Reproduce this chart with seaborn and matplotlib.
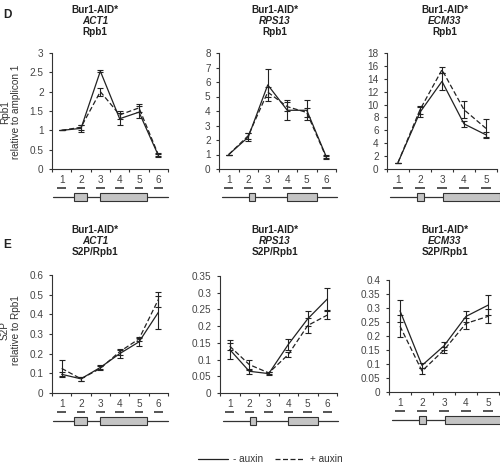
import numpy as np
import pandas as pd
import seaborn as sns
import matplotlib.pyplot as plt
from matplotlib.lines import Line2D
from matplotlib.patches import Rectangle


# panel D: Rpb1 relative to amplicon 1
act1_rpb1_minus = [1.0, 1.05, 2.53, 1.30, 1.47, 0.35]
act1_rpb1_minus_err = [0, 0.10, 0.03, 0.15, 0.15, 0.05]
act1_rpb1_plus = [1.0, 1.08, 2.0, 1.40, 1.58, 0.37]
act1_rpb1_plus_err = [0, 0.07, 0.10, 0.10, 0.10, 0.04]

rps13_rpb1_minus = [1.0, 2.2, 5.8, 4.05, 4.05, 0.85]
rps13_rpb1_minus_err = [0, 0.3, 1.1, 0.7, 0.7, 0.1]
rps13_rpb1_plus = [1.0, 2.3, 5.3, 4.3, 3.9, 0.8]
rps13_rpb1_plus_err = [0, 0.2, 0.35, 0.3, 0.3, 0.1]

ecm33_rpb1_minus = [1.0, 8.8, 13.6, 7.0, 5.3]
ecm33_rpb1_minus_err = [0, 0.8, 1.3, 0.5, 0.5]
ecm33_rpb1_plus = [1.0, 9.2, 15.4, 9.2, 6.3]
ecm33_rpb1_plus_err = [0, 0.6, 0.5, 1.3, 1.4]

# panel E: S2P relative to Rpb1
act1_s2p_minus = [0.095, 0.072, 0.13, 0.20, 0.26, 0.41]
act1_s2p_minus_err = [0.01, 0.01, 0.01, 0.02, 0.02, 0.085]
act1_s2p_plus = [0.125, 0.072, 0.125, 0.21, 0.275, 0.475]
act1_s2p_plus_err = [0.045, 0.01, 0.01, 0.015, 0.01, 0.04]

rps13_s2p_minus = [0.13, 0.065, 0.058, 0.145, 0.222, 0.281]
rps13_s2p_minus_err = [0.028, 0.008, 0.004, 0.017, 0.022, 0.032]
rps13_s2p_plus = [0.14, 0.085, 0.06, 0.115, 0.202, 0.233]
rps13_s2p_plus_err = [0.01, 0.015, 0.003, 0.007, 0.022, 0.013]

ecm33_s2p_minus = [0.29, 0.095, 0.165, 0.27, 0.31]
ecm33_s2p_minus_err = [0.04, 0.01, 0.015, 0.02, 0.035]
ecm33_s2p_plus = [0.235, 0.075, 0.15, 0.245, 0.27]
ecm33_s2p_plus_err = [0.04, 0.01, 0.012, 0.02, 0.025]

CONDITIONS = ["- auxin", "+ auxin"]

# gene models (intron/exon layout, in amplicon units)
GENES = {
    "ACT1": {"line": (-0.45, 5.5), "exons": [(0.64, 1.31), (1.98, 4.41)]},
    "RPS13": {"line": (-0.35, 5.55), "exons": [(1.04, 1.35), (2.99, 4.53)]},
    "ECM33": {"line": (-0.36, 5.64), "exons": [(0.86, 1.18), (2.05, 4.64)]},
}

INK = "#222222"
FS = 7.2
W, H = 500, 466


def px_rect(left, right, top, bottom):
    return [left / W, 1 - bottom / H, (right - left) / W, (bottom - top) / H]


def draw_panel(ax, minus, minus_err, plus, plus_err, ymax, ystep):
    n = len(minus)
    x = np.arange(n)
    df = pd.DataFrame({
        "pos": np.concatenate([x, x]),
        "val": list(minus) + list(plus),
        "cond": [CONDITIONS[0]] * n + [CONDITIONS[1]] * n,
    })
    sns.lineplot(data=df, x="pos", y="val", style="cond",
                 dashes={CONDITIONS[0]: "", CONDITIONS[1]: (4, 2)},
                 color=INK, linewidth=0.9, legend=False, ax=ax)
    for vals, errs in [(minus, minus_err), (plus, plus_err)]:
        ax.errorbar(x, vals, yerr=errs, fmt="none", ecolor=INK,
                    elinewidth=0.8, capsize=2.2, capthick=0.8)

    ax.set_xlim(-0.5, n - 0.5)
    ax.set_ylim(0, ymax)
    yt = np.round(np.arange(0, ymax + ystep / 2, ystep), 4)
    ax.set_yticks(yt)
    ax.set_yticklabels([f"{v:g}" for v in yt])
    ax.set_xticks(np.arange(n + 1) - 0.5)
    ax.set_xticklabels([])
    ax.set_xticks(x, minor=True)
    ax.set_xticklabels([str(i + 1) for i in x], minor=True)
    ax.tick_params(axis="x", which="minor", length=0, pad=4.5)
    ax.tick_params(axis="both", which="major", length=2.5, width=0.8,
                   direction="out", colors="#333333")
    ax.tick_params(labelsize=FS, labelcolor="#444444")
    ax.tick_params(axis="x", which="minor", labelsize=FS, labelcolor="#444444")
    ax.set_xlabel("")
    ax.set_ylabel("")
    for side in ["top", "right"]:
        ax.spines[side].set_visible(False)
    for side in ["left", "bottom"]:
        ax.spines[side].set_color("#333333")
        ax.spines[side].set_linewidth(0.8)


def draw_gene(ax, gene, n):
    info = GENES[gene]
    ax.set_xlim(-0.5, n - 0.5)
    ax.set_ylim(20, 0)
    ax.axis("off")
    for i in range(n):
        ax.plot([i - 0.22, i + 0.22], [4.5, 4.5], color="#555555", lw=1.4,
                solid_capstyle="butt", clip_on=False)
    ax.plot(info["line"], [13.5, 13.5], color="#333333", lw=0.9, clip_on=False)
    for start, end in info["exons"]:
        ax.add_patch(Rectangle((start, 9.5), end - start, 8, facecolor="#c4c4c4",
                               edgecolor="#333333", lw=0.8, clip_on=False, zorder=3))


def main():
    sns.set_theme(style="ticks")
    plt.rcParams["font.family"] = ["Liberation Sans", "DejaVu Sans"]

    fig = plt.figure(figsize=(W / 100, H / 100), dpi=100)

    panels = [
        ("ACT1", "Rpb1", (52, 168, 53, 169), act1_rpb1_minus, act1_rpb1_minus_err,
         act1_rpb1_plus, act1_rpb1_plus_err, 3, 0.5, 95),
        ("RPS13", "Rpb1", (219, 336, 53, 169), rps13_rpb1_minus, rps13_rpb1_minus_err,
         rps13_rpb1_plus, rps13_rpb1_plus_err, 8, 1, 275),
        ("ECM33", "Rpb1", (387, 497, 53, 169), ecm33_rpb1_minus, ecm33_rpb1_minus_err,
         ecm33_rpb1_plus, ecm33_rpb1_plus_err, 18, 2, 445),
        ("ACT1", "S2P/Rpb1", (52, 168, 275, 393), act1_s2p_minus, act1_s2p_minus_err,
         act1_s2p_plus, act1_s2p_plus_err, 0.6, 0.1, 95),
        ("RPS13", "S2P/Rpb1", (220, 337, 276, 393), rps13_s2p_minus, rps13_s2p_minus_err,
         rps13_s2p_plus, rps13_s2p_plus_err, 0.35, 0.05, 275),
        ("ECM33", "S2P/Rpb1", (389, 499, 280, 392), ecm33_s2p_minus, ecm33_s2p_minus_err,
         ecm33_s2p_plus, ecm33_s2p_plus_err, 0.4, 0.05, 445),
    ]

    for gene, mark, (l, r, t, b), mn, mn_e, pl, pl_e, ymax, ystep, cx in panels:
        ax = fig.add_axes(px_rect(l, r, t, b))
        draw_panel(ax, mn, mn_e, pl, pl_e, ymax, ystep)
        gax = fig.add_axes(px_rect(l, r, b + 14, b + 34))
        draw_gene(gax, gene, len(mn))

        top = 10 if mark == "Rpb1" else 230
        fig.text(cx / W, 1 - top / H, "Bur1-AID*", ha="center", va="center",
                 fontsize=FS, fontweight="bold", color=INK)
        fig.text(cx / W, 1 - (top + 11) / H, gene, ha="center", va="center",
                 fontsize=FS, fontweight="bold", style="italic", color=INK)
        fig.text(cx / W, 1 - (top + 22) / H, mark, ha="center", va="center",
                 fontsize=FS, fontweight="bold", color=INK)

    fig.text(7 / W, 1 - 15 / H, "D", ha="center", va="center", fontsize=8.5,
             fontweight="bold", color=INK)
    fig.text(7 / W, 1 - 245 / H, "E", ha="center", va="center", fontsize=8.5,
             fontweight="bold", color=INK)

    fig.text(10.5 / W, 1 - 112 / H, "Rpb1\nrelative to amplicon 1", rotation=90,
             ha="center", va="center", multialignment="center", fontsize=FS,
             color="#333333", linespacing=1.15)
    fig.text(10.5 / W, 1 - 330 / H, "S2P\nrelative to Rpb1", rotation=90,
             ha="center", va="center", multialignment="center", fontsize=FS,
             color="#333333", linespacing=1.15)

    handles = [
        Line2D([], [], color=INK, lw=0.9),
        Line2D([], [], color=INK, lw=0.9, dashes=(4, 2)),
    ]
    fig.legend(handles, CONDITIONS, loc="center", bbox_to_anchor=(270 / W, 1 - 459 / H),
               ncol=2, frameon=False, fontsize=FS, handlelength=3.0,
               columnspacing=1.2, handletextpad=0.5, labelcolor="#333333")

    fig.savefig("out.png", dpi=100)
    plt.close(fig)


if __name__ == "__main__":
    main()
